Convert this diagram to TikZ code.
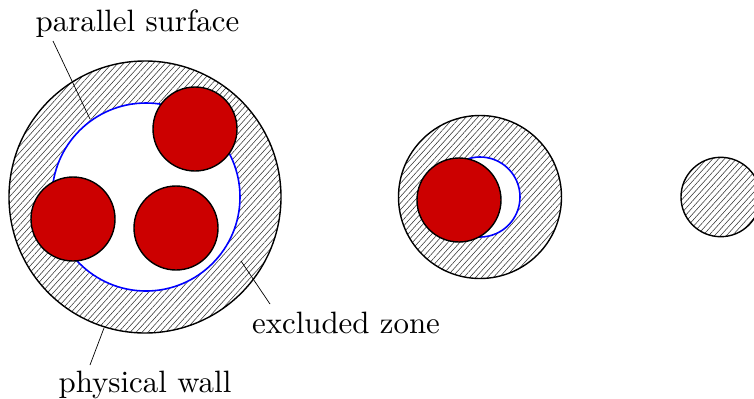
\documentclass[tikz,border=0pt]{standalone}
\usetikzlibrary{patterns.meta}
\tikzset{
  x=1bp,y=-1bp,
  hatched/.style={draw=black,line width=1.4bp,pattern={Lines[angle=48,distance=4.4bp,line width=.55bp]},pattern color=black!80},
  hole/.style={draw=blue,line width=1.6bp,fill=white},
  ball/.style={draw=black,line width=1.4bp,fill=red!80!black},
  lbl/.style={scale=3.1,inner sep=0pt,text=black},
  lead/.style={line width=.7bp,black},
}
\begin{document}
\begin{tikzpicture}
\useasboundingbox (0,0) rectangle (754,398);
\begin{scope}
\clip (0,0) rectangle (754,398);
% left
\draw[hatched] (145,197) circle[radius=136];
\draw[hole] (146,197) circle[radius=94];
\draw[ball] (195,129) circle[radius=42];
\draw[ball] (73,219) circle[radius=42];
\draw[ball] (176,228) circle[radius=42];
% middle
\draw[hatched] (480,197) circle[radius=81.5];
\draw[hole] (480,197) circle[radius=40];
\draw[ball] (459,200) circle[radius=42];
% right
\draw[hatched] (720.7,197) circle[radius=39.7];
\end{scope}
\node[lbl,anchor=base] (ps) at (137.5,31.5) {parallel surface};
\node[lbl,anchor=base] (pw) at (145,392) {physical wall};
\node[lbl,anchor=base] (ez) at (346,333) {excluded zone};
\coordinate (psa) at (53,41);
\coordinate (psb) at (90,119);
\coordinate (pwa) at (90,365);
\coordinate (pwb) at (104,328);
\coordinate (eza) at (270,304);
\coordinate (ezb) at (241,261);
\draw[lead] (psa) -- (psb);
\draw[lead] (pwa) -- (pwb);
\draw[lead] (eza) -- (ezb);
\end{tikzpicture}
\end{document}
